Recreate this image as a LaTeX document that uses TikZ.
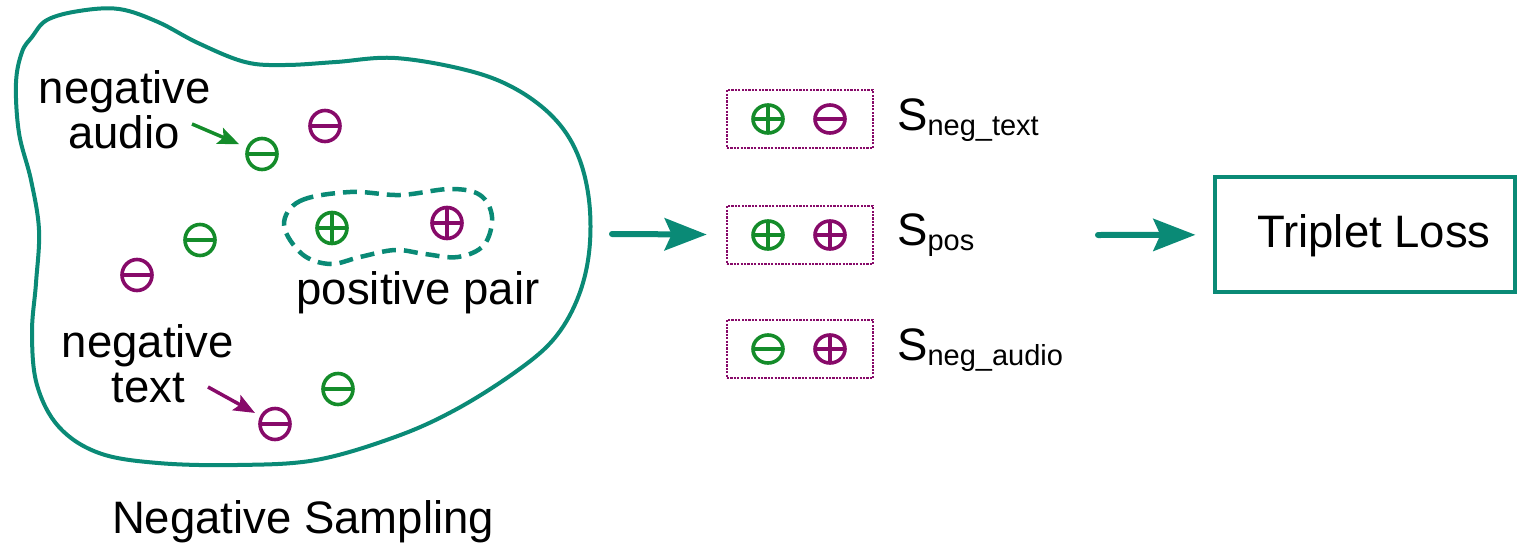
\documentclass[tikz,border=0pt]{standalone}
\usepackage{fontspec}
\setmainfont{Liberation Sans}
\usetikzlibrary{arrows.meta,shapes.geometric}
\definecolor{tealc}{RGB}{10,138,118}
\definecolor{greenc}{RGB}{20,140,42}
\definecolor{purpc}{RGB}{135,10,105}
\begin{document}
\begin{tikzpicture}[x=1pt,y=-1pt,
  lbl/.style={font=\fontsize{45.5}{45}\selectfont, inner sep=0pt, anchor=base},
  sublbl/.style={font=\fontsize{45.5}{45}\selectfont, inner sep=0pt, anchor=base west},
  sym/.style={ellipse, draw=#1, line width=3.6pt, minimum width=30pt, minimum height=31pt, inner sep=0pt},
  symminus/.style={sym=#1, path picture={\draw[#1, line width=3.4pt] (path picture bounding box.west) -- (path picture bounding box.east);}},
  symplus/.style={sym=#1, path picture={\draw[#1, line width=3.4pt] (path picture bounding box.west) -- (path picture bounding box.east) (path picture bounding box.north) -- (path picture bounding box.south);}},
  bminus/.style={symminus=#1, minimum height=28pt},
  bplus/.style={symplus=#1, minimum height=28pt},
  pairbox/.style={draw=purpc, line width=2.6pt, dash pattern=on 2.2pt off 1.2pt, minimum width=146pt, minimum height=58pt, inner sep=0pt},
  bigarrow/.style={tealc, line width=6pt, line cap=round, -{Stealth[length=42pt, width=32pt, inset=7pt]}},
  smallarrow/.style={line width=3.5pt, -{Stealth[length=21pt, width=17pt, inset=4pt]}}
]
\useasboundingbox (0,0) rectangle (1517,544);

% outer blob
\draw[tealc, line width=4pt] plot[smooth cycle, tension=0.6] coordinates {
 (32,37) (47,20) (79,11) (119,9) (158,22) (198,43) (245,62) (285,65) (336,62)
 (395,58) (466,70) (514,88) (553,117) (577,153) (589,200) (589,253) (577,300)
 (553,340) (514,373) (455,410) (395,437) (316,460) (237,465) (158,463) (99,453)
 (59,427) (37,385) (32,333) (36,283) (39,230) (31,180) (19,133) (16,83) (22,52)};

% positive pair outline
\draw[tealc, line width=4.5pt, dash pattern=on 14pt off 8pt] plot[smooth cycle, tension=0.6] coordinates {
 (284,225) (300,201) (350,192) (400,195) (450,189) (480,195) (492,217) (484,245)
 (458,257) (425,254) (395,250) (360,257) (330,264) (302,254)};

% symbols inside blob
\node[symminus=purpc] (m1) at (325,126) {};
\node[symminus=greenc] (na) at (262,154) {};
\node[symminus=greenc] (m2) at (200,240) {};
\node[symminus=purpc] (m3) at (137,275) {};
\node[symplus=greenc] (pa) at (332,228) {};
\node[symplus=purpc] (pt) at (447,223) {};
\node[symminus=greenc] (m4) at (338,389) {};
\node[symminus=purpc] (nt) at (275,424) {};

% labels
\node[lbl] (l1) at (125,103) {negative};
\node[lbl] (l2) at (124,148) {audio};
\node[lbl] (l3) at (148,357) {negative};
\node[lbl] (l4) at (148.5,402) {text};
\node[lbl] (l5) at (418,304) {positive pair};
\node[lbl] (l6) at (303,533) {Negative Sampling};

\coordinate (aa) at (192,124);
\coordinate (ta) at (208,387);
\draw[smallarrow, greenc, shorten >=8pt] (aa) -- (na);
\draw[smallarrow, purpc, shorten >=6pt] (ta) -- (nt);

% pair boxes
\node[pairbox] (b1) at (800,119) {};
\node[pairbox] (b2) at (800,235) {};
\node[pairbox] (b3) at (800,349) {};
\node[bplus=greenc] (b1a) at (768,119) {};
\node[bminus=purpc] (b1b) at (830,119) {};
\node[bplus=greenc] (b2a) at (768,235) {};
\node[bplus=purpc] (b2b) at (830,235) {};
\node[bminus=greenc] (b3a) at (768,349) {};
\node[bplus=purpc] (b3b) at (830,349) {};

\node[sublbl] (s1) at (897,130) {S{\fontsize{29}{30}\selectfont\raisebox{-5pt}{neg\_text}}};
\node[sublbl] (s2) at (897,245) {S{\fontsize{29}{30}\selectfont\raisebox{-5pt}{pos}}};
\node[sublbl] (s3) at (897,360) {S{\fontsize{29}{30}\selectfont\raisebox{-5pt}{neg\_audio}}};

% triplet loss
\node[draw=tealc, line width=3.2pt, minimum width=300pt, minimum height=115pt, inner sep=0pt] (tl) at (1365,234.5) {};
\node[lbl] (tlt) at (1374,247) {Triplet Loss};

\coordinate (blobR) at (612,234);
\coordinate (sposR) at (1098,235);
\draw[bigarrow, shorten >=19pt] (blobR) -- (b2);
\draw[bigarrow, shorten >=18pt] (sposR) -- (tl);
\end{tikzpicture}
\end{document}
